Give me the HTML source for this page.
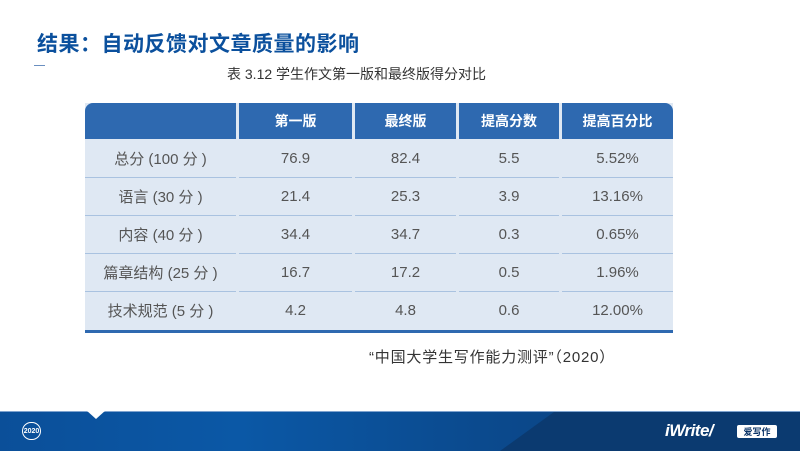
<!DOCTYPE html>
<html><head><meta charset="utf-8">
<style>
*{margin:0;padding:0;box-sizing:border-box}
body{width:800px;height:451px;background:#fff;position:relative;overflow:hidden;font-family:"Liberation Sans","Noto Sans CJK SC",sans-serif}
.t{position:absolute;left:37px;top:28px;font-size:21px;font-weight:bold;color:#0b509d;letter-spacing:0.5px}
.ln{position:absolute;left:34px;top:65px;width:11px;height:1px;background:#6a8fc0}
.cap{position:absolute;left:227px;top:64px;font-size:14px;color:#333;white-space:nowrap}
.tbl{position:absolute;left:85px;top:103px;width:588px;height:230px;background:#dfe8f3}
.hd{position:absolute;top:0;height:36px;background:#2e69b0;color:#fff;font-size:14px;font-weight:bold;display:flex;align-items:center;justify-content:center}
.c{position:absolute;height:38px;display:flex;align-items:center;justify-content:center;font-size:15px;color:#555}
.rl{position:absolute;height:1px;background:#a9c2e0}
.bot{position:absolute;left:0;top:227px;width:588px;height:3px;background:#2e69b0}
.q{position:absolute;left:369px;top:346px;font-size:15px;color:#333;white-space:nowrap;letter-spacing:0.8px}
.ft{position:absolute;left:0;top:411px;width:800px;height:40px;background:linear-gradient(90deg,#0b4f99 0%,#0b58a6 30%,#0b4a8e 60%,#0a3c77 100%);border-top:1px solid #7fa3cf}
.dk{position:absolute;left:500px;top:412px;width:300px;height:39px;background:#0b3a70;border-radius:80px 0 0 0;clip-path:polygon(18% 0,100% 0,100% 100%,0 100%)}
.notch{position:absolute;left:86px;top:410px;width:0;height:0;border-left:10px solid transparent;border-right:10px solid transparent;border-top:9px solid #fff}
.yr{position:absolute;left:22px;top:422px;width:19px;height:18px;border:1.5px solid #fff;border-radius:9px;color:#fff;font-size:7px;font-weight:bold;display:flex;align-items:center;justify-content:center}
.logo{position:absolute;left:665px;top:421px;color:#fff;font-size:17px;font-weight:bold;font-style:italic;letter-spacing:-0.5px}
.ax{position:absolute;left:737px;top:425px;width:40px;height:13px;background:#fff;color:#0b3468;font-size:9px;font-weight:bold;display:flex;align-items:center;justify-content:center;border-radius:2px}
</style></head><body>
<div class="t">结果：自动反馈对文章质量的影响</div>
<div class="ln"></div>
<div class="cap">表 3.12 学生作文第一版和最终版得分对比</div>
<div class="tbl">
<div class="hd" style="left:0;width:151px;border-radius:8px 0 0 0"></div>
<div class="hd" style="left:154px;width:113px">第一版</div>
<div class="hd" style="left:270px;width:101px">最终版</div>
<div class="hd" style="left:374px;width:100px">提高分数</div>
<div class="hd" style="left:477px;width:111px;border-radius:0 8px 0 0">提高百分比</div>

<div class="rl" style="left:0;width:151px;top:74px"></div><div class="rl" style="left:154px;width:113px;top:74px"></div><div class="rl" style="left:270px;width:101px;top:74px"></div><div class="rl" style="left:374px;width:100px;top:74px"></div><div class="rl" style="left:477px;width:111px;top:74px"></div>
<div class="rl" style="left:0;width:151px;top:112px"></div><div class="rl" style="left:154px;width:113px;top:112px"></div><div class="rl" style="left:270px;width:101px;top:112px"></div><div class="rl" style="left:374px;width:100px;top:112px"></div><div class="rl" style="left:477px;width:111px;top:112px"></div>
<div class="rl" style="left:0;width:151px;top:150px"></div><div class="rl" style="left:154px;width:113px;top:150px"></div><div class="rl" style="left:270px;width:101px;top:150px"></div><div class="rl" style="left:374px;width:100px;top:150px"></div><div class="rl" style="left:477px;width:111px;top:150px"></div>
<div class="rl" style="left:0;width:151px;top:188px"></div><div class="rl" style="left:154px;width:113px;top:188px"></div><div class="rl" style="left:270px;width:101px;top:188px"></div><div class="rl" style="left:374px;width:100px;top:188px"></div><div class="rl" style="left:477px;width:111px;top:188px"></div>

<div class="c" style="left:0;width:151px;top:36px">总分 (100 分 )</div><div class="c" style="left:154px;width:113px;top:36px">76.9</div><div class="c" style="left:270px;width:101px;top:36px">82.4</div><div class="c" style="left:374px;width:100px;top:36px">5.5</div><div class="c" style="left:477px;width:111px;top:36px">5.52%</div>
<div class="c" style="left:0;width:151px;top:74px">语言 (30 分 )</div><div class="c" style="left:154px;width:113px;top:74px">21.4</div><div class="c" style="left:270px;width:101px;top:74px">25.3</div><div class="c" style="left:374px;width:100px;top:74px">3.9</div><div class="c" style="left:477px;width:111px;top:74px">13.16%</div>
<div class="c" style="left:0;width:151px;top:112px">内容 (40 分 )</div><div class="c" style="left:154px;width:113px;top:112px">34.4</div><div class="c" style="left:270px;width:101px;top:112px">34.7</div><div class="c" style="left:374px;width:100px;top:112px">0.3</div><div class="c" style="left:477px;width:111px;top:112px">0.65%</div>
<div class="c" style="left:0;width:151px;top:150px">篇章结构 (25 分 )</div><div class="c" style="left:154px;width:113px;top:150px">16.7</div><div class="c" style="left:270px;width:101px;top:150px">17.2</div><div class="c" style="left:374px;width:100px;top:150px">0.5</div><div class="c" style="left:477px;width:111px;top:150px">1.96%</div>
<div class="c" style="left:0;width:151px;top:188px">技术规范 (5 分 )</div><div class="c" style="left:154px;width:113px;top:188px">4.2</div><div class="c" style="left:270px;width:101px;top:188px">4.8</div><div class="c" style="left:374px;width:100px;top:188px">0.6</div><div class="c" style="left:477px;width:111px;top:188px">12.00%</div>
<div class="bot"></div>
</div>
<div class="q">“中国大学生写作能力测评”（2020）</div>
<div class="ft"></div>
<div class="dk"></div>
<div class="notch"></div>
<div class="yr">2020</div>
<div class="logo">iWrite/</div>
<div class="ax">爱写作</div>
</body></html>
